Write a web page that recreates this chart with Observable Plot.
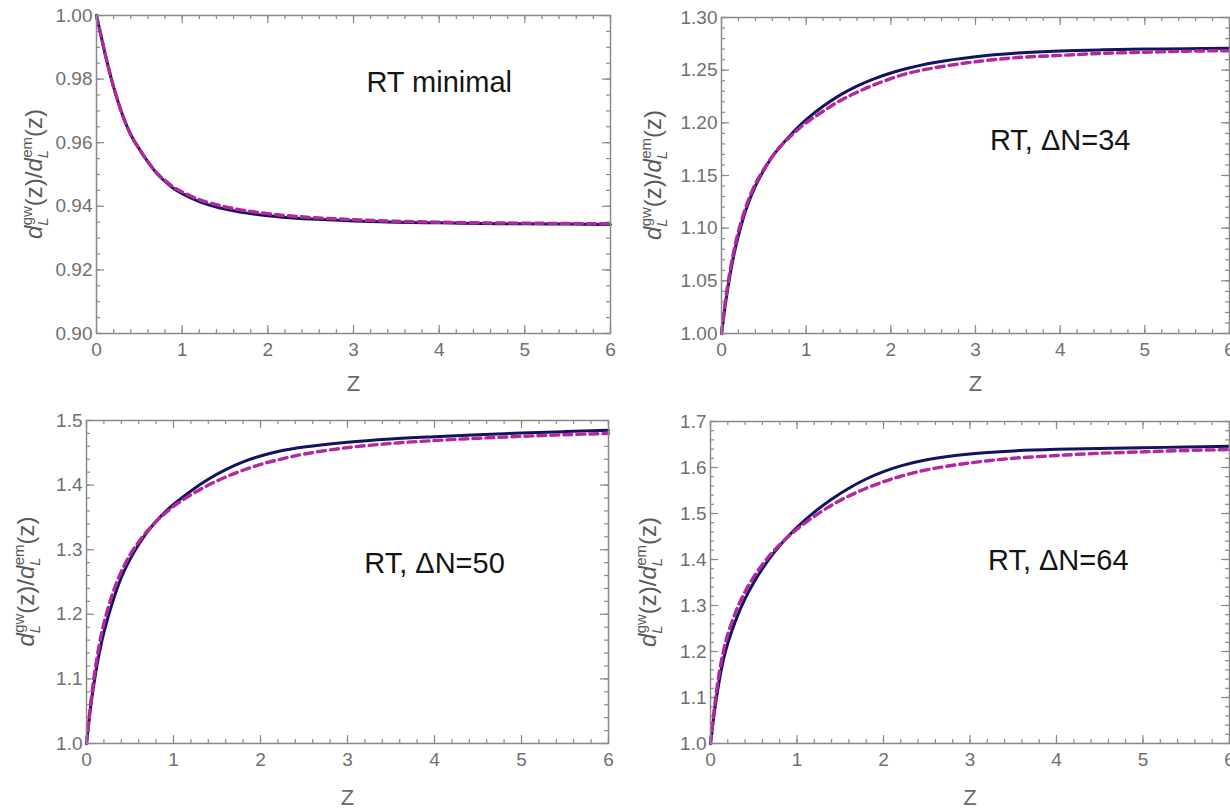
<!DOCTYPE html>
<html><head><meta charset="utf-8">
<script src="https://cdn.jsdelivr.net/npm/d3@7"></script>
<script src="https://cdn.jsdelivr.net/npm/@observablehq/plot@0.6"></script>
<style>
body{margin:0;background:#fff;}
#wrap{position:relative;width:1230px;height:810px;overflow:hidden;background:#fff;}
#wrap svg{position:absolute;max-width:none;}
</style></head><body><div id="wrap"></div>
<script>
// redshift grid (x values)
const z = [0, 0.05, 0.1, 0.15, 0.2, 0.3, 0.4, 0.5, 0.6, 0.7, 0.8, 0.9, 1.0, 1.2, 1.4, 1.6, 1.8, 2.0, 2.2, 2.5, 3.0, 3.5, 4.0, 4.5, 5.0, 5.5, 6.0];

// RT minimal
const minimalSolid  = [1.0000, 0.9940, 0.9880, 0.9825, 0.9775, 0.9690, 0.9625, 0.9580, 0.9540, 0.9505, 0.9478, 0.9456, 0.9440, 0.9415, 0.9398, 0.9386, 0.9377, 0.9370, 0.9365, 0.9360, 0.9354, 0.9350, 0.9348, 0.9346, 0.9345, 0.9344, 0.9343];
const minimalDashed = [1.0000, 0.9940, 0.9880, 0.9825, 0.9775, 0.9690, 0.9625, 0.9580, 0.9540, 0.9506, 0.9481, 0.9460, 0.9445, 0.9421, 0.9405, 0.9393, 0.9384, 0.9377, 0.9371, 0.9365, 0.9358, 0.9353, 0.9350, 0.9348, 0.9347, 0.9346, 0.9345];

// RT, ΔN=34
const dn34Solid  = [1.000, 1.030, 1.055, 1.076, 1.093, 1.120, 1.140, 1.155, 1.168, 1.178, 1.187, 1.1955, 1.203, 1.2157, 1.2263, 1.2348, 1.2417, 1.2473, 1.2518, 1.2571, 1.2628, 1.2662, 1.2682, 1.2693, 1.2700, 1.2704, 1.2707];
const dn34Dashed = [1.000, 1.033, 1.059, 1.080, 1.097, 1.123, 1.142, 1.156, 1.168, 1.178, 1.186, 1.1935, 1.200, 1.211, 1.221, 1.229, 1.236, 1.242, 1.247, 1.252, 1.258, 1.262, 1.264, 1.266, 1.267, 1.268, 1.2685];

// RT, ΔN=50
const dn50Solid  = [1.000, 1.059, 1.105, 1.142, 1.172, 1.219, 1.257, 1.285, 1.308, 1.3275, 1.344, 1.358, 1.370, 1.391, 1.409, 1.424, 1.436, 1.445, 1.452, 1.459, 1.4665, 1.4715, 1.475, 1.478, 1.4805, 1.4828, 1.485];
const dn50Dashed = [1.000, 1.064, 1.115, 1.155, 1.186, 1.232, 1.266, 1.292, 1.312, 1.329, 1.3435, 1.356, 1.367, 1.385, 1.400, 1.4125, 1.423, 1.432, 1.439, 1.448, 1.458, 1.4645, 1.469, 1.4725, 1.4755, 1.478, 1.480];

// RT, ΔN=64
const dn64Solid  = [1.000, 1.075, 1.135, 1.183, 1.218, 1.272, 1.315, 1.350, 1.380, 1.407, 1.430, 1.451, 1.470, 1.503, 1.531, 1.555, 1.575, 1.591, 1.6036, 1.617, 1.6295, 1.636, 1.6395, 1.6415, 1.643, 1.6445, 1.646];
const dn64Dashed = [1.000, 1.085, 1.152, 1.201, 1.237, 1.290, 1.330, 1.362, 1.389, 1.412, 1.432, 1.450, 1.466, 1.494, 1.518, 1.538, 1.555, 1.569, 1.581, 1.595, 1.610, 1.620, 1.626, 1.631, 1.634, 1.637, 1.639];

// tick labels
const xTicks = [0, 1, 2, 3, 4, 5, 6];
const yTicksMinimal = [0.90, 0.92, 0.94, 0.96, 0.98, 1.00];
const yTicks34 = [1.00, 1.05, 1.10, 1.15, 1.20, 1.25, 1.30];
const yTicks50 = [1.0, 1.1, 1.2, 1.3, 1.4, 1.5];
const yTicks64 = [1.0, 1.1, 1.2, 1.3, 1.4, 1.5, 1.6, 1.7];

const panelTitles = ["RT minimal", "RT, ΔN=34", "RT, ΔN=50", "RT, ΔN=64"];

const FONT = "'Liberation Sans', Arial, Helvetica, sans-serif";
const FRAME = "#8a8a8a";

function makePanel(cfg) {
  const {left, top, width, height, mL, mR, mT, mB, yDomain, yMajor, yMinorStep, yDigits,
         solid, dashed, title, titleX, titleY, ylabDx, zDy} = cfg;
  const fw = width - mL - mR, fh = height - mT - mB;
  const rows = vals => z.map((zz, i) => ({z: zz, v: vals[i]}));
  const xMinor = d3.range(0, 6.0001, 0.2).map(d => +d.toFixed(3));
  const yMinor = d3.range(yDomain[0], yDomain[1] + 1e-9, yMinorStep).map(d => +d.toFixed(4));
  const tk = {stroke: FRAME, strokeWidth: 1.2};
  const plot = Plot.plot({
    width, height,
    marginLeft: mL, marginRight: mR, marginTop: mT, marginBottom: mB,
    x: {domain: [0, 6]},
    y: {domain: yDomain},
    style: {fontFamily: FONT, fontSize: "19px", color: "#707070", background: "transparent", overflow: "visible"},
    marks: [
      Plot.tickX(xMinor, {x: d => d, insetTop: fh - 4, ...tk}),
      Plot.tickX(xMinor, {x: d => d, insetBottom: fh - 4, ...tk}),
      Plot.tickX(xTicks, {x: d => d, insetTop: fh - 8, ...tk}),
      Plot.tickX(xTicks, {x: d => d, insetBottom: fh - 8, ...tk}),
      Plot.tickY(yMinor, {y: d => d, insetRight: fw - 4, ...tk}),
      Plot.tickY(yMinor, {y: d => d, insetLeft: fw - 4, ...tk}),
      Plot.tickY(yMajor, {y: d => d, insetRight: fw - 8, ...tk}),
      Plot.tickY(yMajor, {y: d => d, insetLeft: fw - 8, ...tk}),
      Plot.axisX({ticks: xTicks, tickSize: 0, tickPadding: 9, tickFormat: d => String(d), label: null}),
      Plot.axisY({ticks: yMajor, tickSize: 0, tickPadding: 4, tickFormat: d => d.toFixed(yDigits), label: null}),
      Plot.line(rows(solid), {x: "z", y: "v", stroke: "#13135f", strokeWidth: 3, curve: "catmull-rom"}),
      Plot.line(rows(dashed), {x: "z", y: "v", stroke: "#b3279f", strokeWidth: 3.4, strokeDasharray: "8,5", curve: "catmull-rom"}),
      Plot.frame({stroke: FRAME, strokeWidth: 1.5}),
      Plot.text([title], {x: () => titleX, y: () => titleY, text: d => d, fontSize: 29, fill: "#151515", fontFamily: FONT}),
      Plot.text(["Z"], {frameAnchor: "bottom", dy: zDy, text: d => d, fontSize: 22, fill: "#6a6a6a"})
    ]
  });
  plot.style.left = left + "px";
  plot.style.top = top + "px";
  // y-axis label with sub/superscripts
  const t = d3.select(plot).append("text")
    .attr("transform", `translate(${mL + ylabDx},${mT + fh / 2}) rotate(-90)`)
    .attr("text-anchor", "middle")
    .attr("font-family", FONT)
    .attr("font-size", 24)
    .attr("fill", "#5a5a5a");
  const part = (txt, o = {}) => {
    const s = t.append("tspan").text(txt);
    for (const k in o) s.attr(k, o[k]);
  };
  part("d", {"font-style": "italic"});
  part("L", {"font-style": "italic", "font-size": 15, dy: 6});
  part("gw", {"font-size": 15, dx: -8, dy: -16});
  part("(z)/", {dy: 10});
  part("d", {"font-style": "italic"});
  part("L", {"font-style": "italic", "font-size": 15, dy: 6});
  part("em", {"font-size": 15, dx: -8, dy: -16});
  part("(z)", {dy: 10});
  document.getElementById("wrap").appendChild(plot);
}

makePanel({left: 0, top: 0, width: 615, height: 405, mL: 96, mR: 5, mT: 15, mB: 72,
  yDomain: [0.90, 1.00], yMajor: yTicksMinimal, yMinorStep: 0.005, yDigits: 2,
  solid: minimalSolid, dashed: minimalDashed, title: panelTitles[0], titleX: 4.0, titleY: 0.979,
  ylabDx: -54, zDy: 57});

makePanel({left: 615, top: 0, width: 615, height: 405, mL: 106, mR: 1, mT: 17, mB: 72,
  yDomain: [1.00, 1.30], yMajor: yTicks34, yMinorStep: 0.01, yDigits: 2,
  solid: dn34Solid, dashed: dn34Dashed, title: panelTitles[1], titleX: 4.0, titleY: 1.183,
  ylabDx: -60, zDy: 57});

makePanel({left: 0, top: 405, width: 615, height: 405, mL: 86, mR: 7, mT: 15, mB: 67,
  yDomain: [1.0, 1.5], yMajor: yTicks50, yMinorStep: 0.02, yDigits: 1,
  solid: dn50Solid, dashed: dn50Dashed, title: panelTitles[2], titleX: 4.0, titleY: 1.279,
  ylabDx: -52, zDy: 61});

makePanel({left: 615, top: 405, width: 615, height: 405, mL: 95, mR: 1, mT: 16, mB: 67,
  yDomain: [1.0, 1.7], yMajor: yTicks64, yMinorStep: 0.02, yDigits: 1,
  solid: dn64Solid, dashed: dn64Dashed, title: panelTitles[3], titleX: 4.02, titleY: 1.398,
  ylabDx: -54, zDy: 61});
</script></body></html>
